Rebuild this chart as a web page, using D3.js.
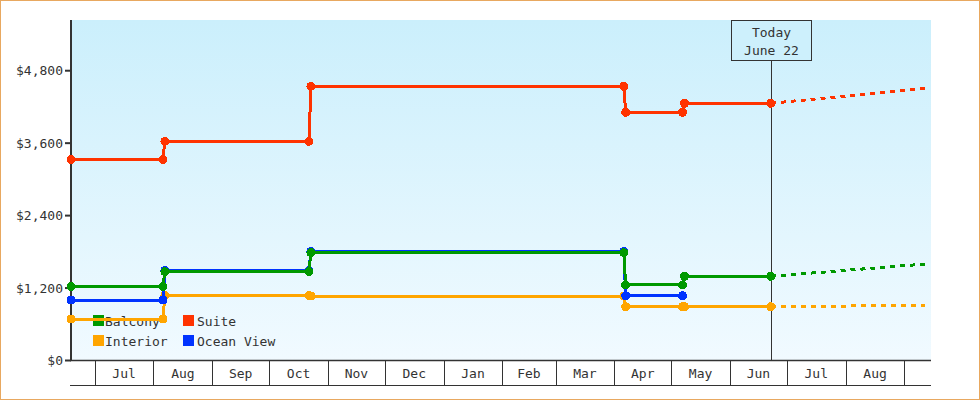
<!DOCTYPE html>
<html><head><meta charset="utf-8">
<script src="https://cdn.jsdelivr.net/npm/d3@7"></script>
<style>
body{margin:0;background:#fff}
svg{display:block}
text{font-family:"DejaVu Sans Mono",monospace;font-size:13px;fill:#333}
</style>
</head><body><svg id="c" width="980" height="400"></svg>
<script>
// ---- data ----
const dates      = ["2012-06-18T12:00","2012-08-06","2012-08-07","2012-10-22","2012-10-23","2013-04-06","2013-04-07","2013-05-07","2013-05-08","2013-06-22T12:00"];
const suite      = [3332,3332,3631,3631,4542,4542,4111,4111,4260,4260];
const balcony    = [1228,1228,1471,1471,1786,1786,1251,1251,1395,1395];
const oceanView  = [1002,1002,1494,1494,1808,1808,1073,1073,null,null];
const interior   = [687,687,1080,1080,1068,1068,891,891,891,891];
const forecastDates    = ["2013-06-22T12:00","2013-09-12"];
const suiteForecast    = [4260,4509];
const balconyForecast  = [1395,1598];
const interiorForecast = [891,914];
const yTicks   = [0,1200,2400,3600,4800];
const xDomain  = ["2012-06-18T12:00","2013-09-15"];
const todayDate  = "2013-06-22T12:00";
const todayLabel = ["Today","June 22"];
const legendItems = ["Balcony","Suite","Interior","Ocean View"];

const colors = {"Suite":"#ff3300","Balcony":"#009900","Ocean View":"#0033ff","Interior":"#ffa500"};

function parse(s){ return new Date((s.length===10 ? s+"T00:00" : s) + "Z"); }

const svg = d3.select("#c");
const L=71, R=931, T=20, B=360.5;

const x = d3.scaleUtc().domain(xDomain.map(parse)).range([L,R]);
const y = d3.scaleLinear().domain([0,5640]).range([B,T]);

// border
svg.append("rect").attr("x",0.5).attr("y",0.5).attr("width",979).attr("height",399)
  .attr("fill","#fff").attr("stroke","#e8a860");

// gradient bg
const defs = svg.append("defs");
const g = defs.append("linearGradient").attr("id","bg").attr("x1",0).attr("y1",0).attr("x2",0).attr("y2",1);
g.append("stop").attr("offset","0%").attr("stop-color","#cbeffc");
g.append("stop").attr("offset","100%").attr("stop-color","#f1faff");
svg.append("rect").attr("x",L).attr("y",T).attr("width",R-L).attr("height",B-T).attr("fill","url(#bg)");

// legend (under lines)
const lg = svg.append("g");
legendItems.forEach((name,i)=>{
  const col = i%2, row = Math.floor(i/2);
  const lx = col===0 ? 93 : 183, tx = col===0 ? 105 : 197;
  const ly = 315 + row*20;
  lg.append("rect").attr("x",lx).attr("y",ly).attr("width",11).attr("height",11).attr("fill",colors[name]);
  lg.append("text").attr("x",tx).attr("y",ly+10.5).text(name);
});

// y axis
svg.append("line").attr("x1",L).attr("x2",L).attr("y1",T).attr("y2",B+0.5)
  .attr("stroke","#333").attr("stroke-width",2);
yTicks.forEach(v=>{
  const yy = y(v);
  svg.append("line").attr("x1",65).attr("x2",L).attr("y1",yy).attr("y2",yy).attr("stroke","#333").attr("stroke-width",2);
  svg.append("text").attr("x",63).attr("y",yy+4.5).attr("text-anchor","end").text(d3.format("$,.0f")(v));
});

// x axis band
svg.append("line").attr("x1",70).attr("x2",R).attr("y1",360.5).attr("y2",360.5).attr("stroke","#333").attr("stroke-width",1.5);
svg.append("line").attr("x1",70).attr("x2",R).attr("y1",385.5).attr("y2",385.5).attr("stroke","#333").attr("stroke-width",1);
const d0 = x.domain()[0], d1 = x.domain()[1];
const months = d3.utcMonth.range(d3.utcMonth.ceil(d0), d1);
months.forEach((m,i)=>{
  const xm = Math.round(x(m))+0.5;
  svg.append("line").attr("x1",xm).attr("x2",xm).attr("y1",361).attr("y2",385).attr("stroke","#333").attr("stroke-width",1);
  const next = d3.utcMonth.offset(m,1);
  if(next <= d1){
    svg.append("text").attr("x",(x(m)+x(next))/2).attr("y",377.5).attr("text-anchor","middle").text(d3.utcFormat("%b")(m));
  }
});

// today marker
const tx = Math.round(x(parse(todayDate)))+0.5;
svg.append("line").attr("x1",tx).attr("x2",tx).attr("y1",60.5).attr("y2",360).attr("stroke","#333").attr("stroke-width",1);
svg.append("rect").attr("x",tx-40).attr("y",20.5).attr("width",80).attr("height",40)
  .attr("fill","#cdf0fc").attr("stroke","#333").attr("stroke-width",1);
svg.append("text").attr("x",tx).attr("y",37).attr("text-anchor","middle").text(todayLabel[0]);
svg.append("text").attr("x",tx).attr("y",55).attr("text-anchor","middle").text(todayLabel[1]);

// series
const series = [
  {name:"Interior", vals:interior, fc:interiorForecast},
  {name:"Ocean View", vals:oceanView, fc:null},
  {name:"Balcony", vals:balcony, fc:balconyForecast},
  {name:"Suite", vals:suite, fc:suiteForecast}
];
const line = d3.line().defined(d=>d.v!=null).x(d=>x(d.date)).y(d=>y(d.v));
series.forEach(s=>{
  const c = colors[s.name];
  const pts = dates.map((d,i)=>({date:parse(d), v:s.vals[i]}));
  if(s.fc){
    const fpts = forecastDates.map((d,i)=>({date:parse(d), v:s.fc[i]}));
    svg.append("path").attr("d",line(fpts)).attr("fill","none").attr("stroke",c)
      .attr("stroke-width",3).attr("stroke-dasharray","5,5").attr("shape-rendering","crispEdges");
  }
  svg.append("path").attr("d",line(pts)).attr("fill","none").attr("stroke",c).attr("stroke-width",3)
    .attr("shape-rendering","crispEdges");
  svg.append("g").attr("shape-rendering","crispEdges").selectAll("circle").data(pts.filter(p=>p.v!=null)).join("circle")
    .attr("cx",d=>x(d.date)).attr("cy",d=>y(d.v)).attr("r",4.5).attr("fill",c);
});
</script>
</body></html>
